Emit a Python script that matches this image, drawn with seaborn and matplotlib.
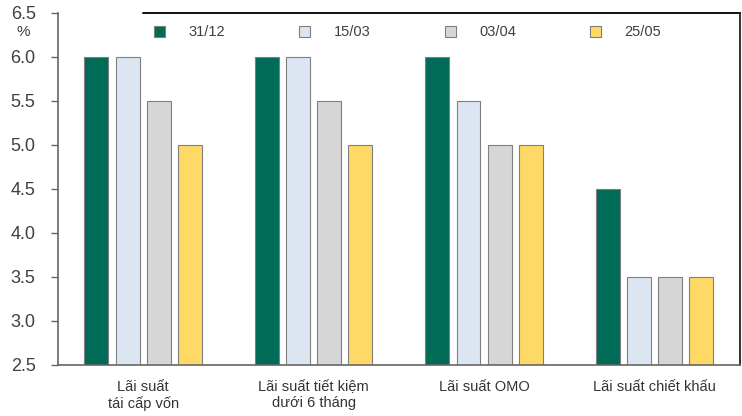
import matplotlib
matplotlib.use("Agg")
import matplotlib.pyplot as plt
import seaborn as sns
import pandas as pd

categories = ["Lãi suất\ntái cấp vốn", "Lãi suất tiết kiệm\ndưới 6 tháng",
              "Lãi suất OMO", "Lãi suất chiết khấu"]
dates = ["31/12", "15/03", "03/04", "25/05"]
rate_3112 = [6.0, 6.0, 6.0, 4.5]
rate_1503 = [6.0, 6.0, 5.5, 3.5]
rate_0304 = [5.5, 5.5, 5.0, 3.5]
rate_2505 = [5.0, 5.0, 5.0, 3.5]
y_ticks = [2.5, 3.0, 3.5, 4.0, 4.5, 5.0, 5.5, 6.0, 6.5]

colors = ["#006B56", "#DCE6F2", "#D6D6D6", "#FFD966"]

rows = []
for d, vals in zip(dates, [rate_3112, rate_1503, rate_0304, rate_2505]):
    for c, v in zip(categories, vals):
        rows.append({"cat": c, "date": d, "rate": v})
df = pd.DataFrame(rows)

sns.set_theme(style="white")
plt.rcParams["font.family"] = ["Liberation Sans", "DejaVu Sans"]

fig = plt.figure(figsize=(7.42, 4.16), dpi=100)
ax = fig.add_axes([0.078, 0.1226, 0.919, 0.8464])

sns.barplot(data=df, x="cat", y="rate", hue="date", order=categories,
            hue_order=dates, palette=colors, saturation=1, width=0.73, gap=0.23,
            edgecolor="#7F7F7F", linewidth=0.8, ax=ax, legend=True)

ax.set_xlim(-0.5, 3.5)
ax.set_ylim(2.5, 6.5)
ax.set_yticks(y_ticks)
ax.set_yticklabels([f"{t:.1f}" for t in y_ticks], fontsize=13, color="#404040")
ax.tick_params(axis="y", left=True, length=5, width=1.0, color="#666666", pad=11)
ax.tick_params(axis="x", bottom=False, length=0, pad=11, labelsize=10.5, labelcolor="#333333")
ax.set_xlabel("")
ax.set_ylabel("")

for side in ["left", "bottom", "right"]:
    ax.spines[side].set_visible(True)
    ax.spines[side].set_color("#666666")
    ax.spines[side].set_linewidth(1.2)
ax.spines["right"].set_color("#111111")
ax.spines["top"].set_visible(False)
ax.axhline(6.5, xmin=0.125, xmax=1.0, color="#111111", linewidth=1.4, clip_on=False)

fig.text(0.031, 0.922, "%", fontsize=11, color="#404040", ha="center", va="center")

handles, labels = ax.get_legend_handles_labels()
ax.legend(handles, labels, ncol=4, frameon=False, loc="center",
          bbox_to_anchor=(0.513, 0.945), fontsize=10.5, handlelength=0.75,
          handleheight=0.75, handletextpad=1.6, columnspacing=5.1,
          labelcolor="#404040")

fig.savefig("out.png", dpi=100)
